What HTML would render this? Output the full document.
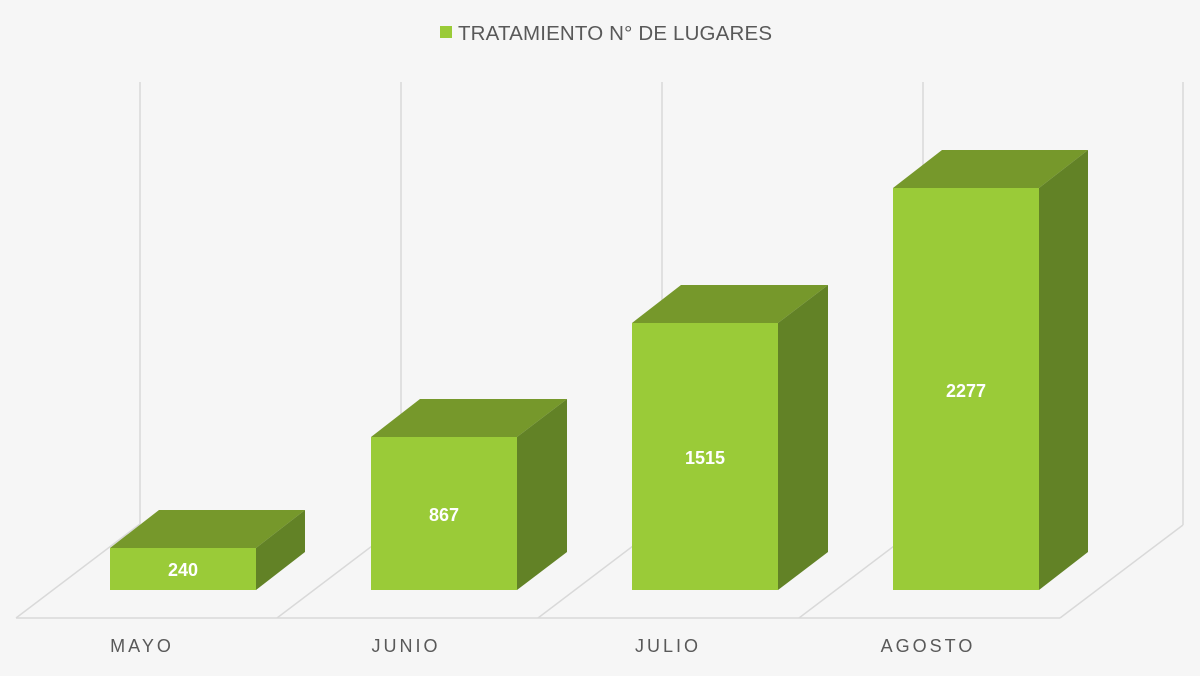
<!DOCTYPE html>
<html><head><style>
body{margin:0;background:#f6f6f6;}
svg{display:block}
text{font-family:"Liberation Sans",sans-serif}
</style></head><body>
<svg width="1200" height="676" viewBox="0 0 1200 676">
<rect width="1200" height="676" fill="#f6f6f6"/>
<rect x="440" y="26" width="12" height="12" fill="#9acb38"/>
<text x="458" y="40" font-size="20.5" fill="#595959" textLength="314">TRATAMIENTO N° DE LUGARES</text>
<g stroke="#d9d9d9" stroke-width="1.5" fill="none">
<line x1="140" y1="82" x2="140" y2="524"/>
<line x1="401" y1="82" x2="401" y2="524"/>
<line x1="662" y1="82" x2="662" y2="524"/>
<line x1="923" y1="82" x2="923" y2="524"/>
<line x1="1183" y1="82" x2="1183" y2="525"/>
<line x1="16" y1="618" x2="1060" y2="618"/>
<line x1="16" y1="618" x2="140" y2="524"/>
<line x1="277" y1="618" x2="401" y2="524"/>
<line x1="538" y1="618" x2="662" y2="524"/>
<line x1="799" y1="618" x2="923" y2="524"/>
<line x1="1060" y1="618" x2="1183" y2="525"/>
</g>
<g>
<polygon points="110,548 159,510 305,510 256,548" fill="#76982b"/>
<polygon points="256,548 305,510 305,552 256,590" fill="#628226"/>
<rect x="110" y="548" width="146" height="42" fill="#9acb38"/>
<polygon points="371,437 420,399 567,399 517,437" fill="#76982b"/>
<polygon points="517,437 567,399 567,552 517,590" fill="#628226"/>
<rect x="371" y="437" width="146" height="153" fill="#9acb38"/>
<polygon points="632,323 681,285 828,285 778,323" fill="#76982b"/>
<polygon points="778,323 828,285 828,552 778,590" fill="#628226"/>
<rect x="632" y="323" width="146" height="267" fill="#9acb38"/>
<polygon points="893,188 942,150 1088,150 1039,188" fill="#76982b"/>
<polygon points="1039,188 1088,150 1088,552 1039,590" fill="#628226"/>
<rect x="893" y="188" width="146" height="402" fill="#9acb38"/>
</g>
<g fill="#fff" font-size="18" font-weight="bold" text-anchor="middle">
<text x="183" y="576">240</text>
<text x="444" y="521">867</text>
<text x="705" y="464">1515</text>
<text x="966" y="397">2277</text>
</g>
<g fill="#595959" font-size="18" letter-spacing="3" text-anchor="middle">
<text x="142" y="652">MAYO</text>
<text x="406" y="652">JUNIO</text>
<text x="668" y="652">JULIO</text>
<text x="928" y="652">AGOSTO</text>
</g>
</svg>
</body></html>
